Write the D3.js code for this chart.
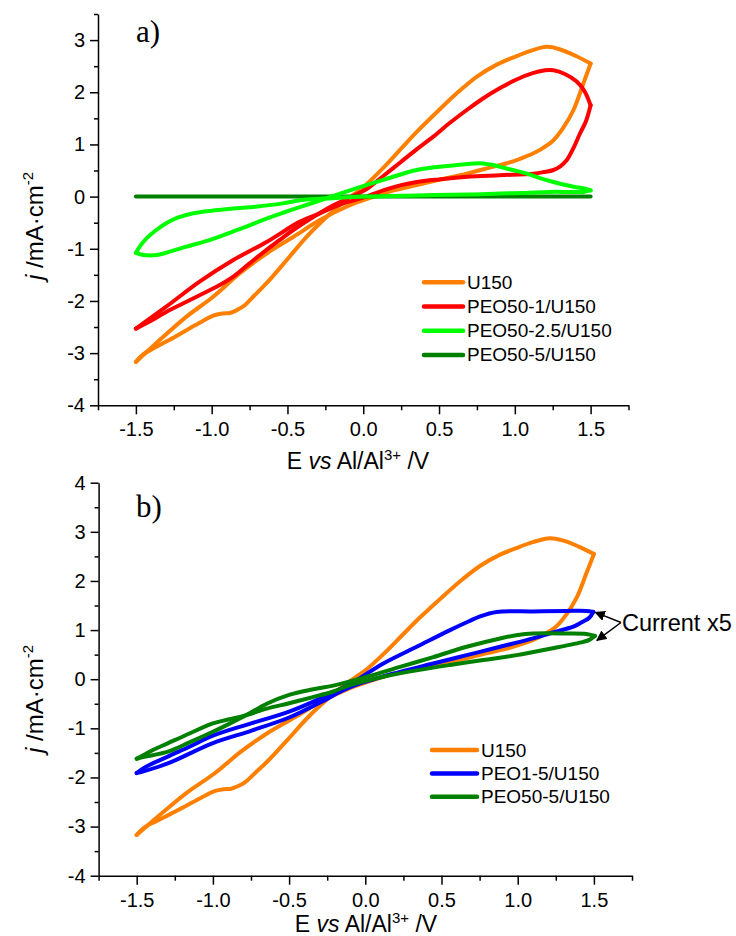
<!DOCTYPE html>
<html><head><meta charset="utf-8">
<script src="https://cdn.jsdelivr.net/npm/d3@7"></script>
<style>body{margin:0;background:#fff}svg{display:block}</style>
</head><body>
<svg id="chart" width="736" height="936"></svg>
<script>
// ---------- data ----------
const xTicks = [-1.5, -1.0, -0.5, 0.0, 0.5, 1.0, 1.5];
const xMinor = [-1.75, -1.25, -0.75, -0.25, 0.25, 0.75, 1.25, 1.75];
const yTicksA = [-4, -3, -2, -1, 0, 1, 2, 3];
const yTicksB = [-4, -3, -2, -1, 0, 1, 2, 3, 4];
const yMinor = [-3.5, -2.5, -1.5, -0.5, 0.5, 1.5, 2.5, 3.5];

const legendA = ["U150", "PEO50-1/U150", "PEO50-2.5/U150", "PEO50-5/U150"];
const legendB = ["U150", "PEO1-5/U150", "PEO50-5/U150"];

// U150 (same in both panels): forward and reverse sweep [E, j]
const u150Fwd = [[-1.5,-3.17],[-1.45,-3.02],[-1.365,-2.88],[-1.25,-2.70],[-1.166,-2.56],[-1.08,-2.42],[-0.99,-2.28],[-0.93,-2.24],[-0.88,-2.23],[-0.83,-2.17],[-0.79,-2.10],[-0.72,-1.90],[-0.638,-1.66],[-0.506,-1.22],[-0.374,-0.77],[-0.242,-0.39],[-0.12,-0.08],[0.0,0.18],[0.132,0.55],[0.25,0.92],[0.353,1.24],[0.5,1.66],[0.617,1.98],[0.75,2.30],[0.881,2.53],[1.0,2.68],[1.1,2.79],[1.211,2.87],[1.3,2.82],[1.4,2.70],[1.5,2.55]];
const u150Rev = [[1.5,2.55],[1.45,2.15],[1.387,1.66],[1.32,1.32],[1.255,1.08],[1.19,0.94],[1.123,0.83],[1.03,0.72],[0.947,0.64],[0.8,0.53],[0.683,0.44],[0.5,0.32],[0.353,0.22],[0.2,0.12],[0.05,-0.02],[-0.1,-0.18],[-0.286,-0.45],[-0.46,-0.77],[-0.638,-1.09],[-0.814,-1.47],[-0.99,-1.92],[-1.166,-2.30],[-1.343,-2.75],[-1.5,-3.17]];

const peo50_1Fwd = [[-1.5,-2.53],[-1.4,-2.38],[-1.3,-2.21],[-1.19,-2.05],[-1.08,-1.89],[-0.968,-1.73],[-0.86,-1.54],[-0.75,-1.28],[-0.638,-1.02],[-0.55,-0.83],[-0.462,-0.64],[-0.33,-0.39],[-0.2,-0.17],[-0.1,-0.03],[0.02,0.14],[0.13,0.39],[0.242,0.65],[0.35,0.90],[0.462,1.15],[0.57,1.41],[0.683,1.66],[0.8,1.90],[0.903,2.08],[1.0,2.23],[1.123,2.37],[1.2,2.42],[1.255,2.42],[1.33,2.35],[1.41,2.20],[1.46,2.02],[1.5,1.75]];
const peo50_1Rev = [[1.5,1.75],[1.47,1.45],[1.43,1.21],[1.39,0.95],[1.343,0.70],[1.30,0.58],[1.255,0.51],[1.19,0.47],[1.123,0.44],[0.9,0.41],[0.683,0.38],[0.5,0.33],[0.353,0.28],[0.25,0.22],[0.132,0.12],[0.0,-0.02],[-0.15,-0.15],[-0.286,-0.32],[-0.418,-0.48],[-0.638,-0.87],[-0.86,-1.22],[-1.08,-1.63],[-1.3,-2.11],[-1.5,-2.53]];

const peo50_25Fwd = [[-1.5,-1.08],[-1.45,-1.12],[-1.365,-1.12],[-1.27,-1.05],[-1.166,-0.96],[-1.0,-0.82],[-0.86,-0.67],[-0.75,-0.55],[-0.638,-0.42],[-0.52,-0.30],[-0.418,-0.20],[-0.25,-0.04],[-0.088,0.12],[0.132,0.32],[0.353,0.51],[0.573,0.59],[0.771,0.64],[0.85,0.61],[0.903,0.57],[1.0,0.50],[1.08,0.44],[1.17,0.35],[1.255,0.28],[1.387,0.19],[1.45,0.16],[1.5,0.12]];
const peo50_25Rev = [[1.5,0.12],[1.45,0.09],[1.35,0.09],[1.233,0.09],[1.05,0.07],[0.903,0.06],[0.7,0.04],[0.462,0.03],[0.2,0.01],[0.02,0.0],[-0.2,-0.03],[-0.418,-0.07],[-0.53,-0.13],[-0.7,-0.19],[-0.86,-0.23],[-1.0,-0.27],[-1.12,-0.32],[-1.22,-0.40],[-1.3,-0.51],[-1.365,-0.64],[-1.43,-0.80],[-1.47,-0.94],[-1.5,-1.08]];

const peo50_5A = [[-1.5,0.0],[-0.75,0.0],[0.0,0.0],[0.75,0.0],[1.5,0.0]];

const peo1_5Fwd = [[-1.5,-1.91],[-1.45,-1.80],[-1.3,-1.58],[-1.15,-1.37],[-1.0,-1.15],[-0.75,-0.90],[-0.5,-0.66],[-0.3,-0.40],[-0.1,-0.10],[0.118,0.32],[0.337,0.66],[0.556,1.00],[0.68,1.18],[0.753,1.28],[0.862,1.37],[1.1,1.38],[1.32,1.39],[1.45,1.39],[1.496,1.37]];
const peo1_5Rev = [[1.496,1.37],[1.47,1.25],[1.42,1.16],[1.365,1.07],[1.23,0.95],[1.10,0.83],[0.884,0.66],[0.665,0.49],[0.446,0.32],[0.228,0.15],[-0.1,-0.16],[-0.3,-0.48],[-0.5,-0.78],[-0.75,-1.05],[-1.0,-1.30],[-1.3,-1.72],[-1.45,-1.87],[-1.5,-1.91]];

const peo50_5BFwd = [[-1.5,-1.62],[-1.45,-1.58],[-1.3,-1.48],[-1.15,-1.28],[-1.0,-1.07],[-0.9,-0.92],[-0.78,-0.73],[-0.647,-0.50],[-0.5,-0.32],[-0.35,-0.21],[-0.21,-0.13],[0.009,0.05],[0.228,0.25],[0.446,0.45],[0.665,0.66],[0.884,0.83],[1.0,0.90],[1.10,0.93],[1.32,0.93],[1.45,0.92],[1.507,0.88]];
const peo50_5BRev = [[1.507,0.88],[1.47,0.80],[1.43,0.76],[1.212,0.62],[0.993,0.49],[0.774,0.39],[0.556,0.29],[0.337,0.18],[0.118,0.05],[-0.1,-0.12],[-0.21,-0.25],[-0.35,-0.37],[-0.5,-0.49],[-0.647,-0.60],[-0.78,-0.73],[-0.9,-0.82],[-1.0,-0.90],[-1.15,-1.10],[-1.3,-1.31],[-1.4,-1.45],[-1.5,-1.62]];

// ---------- drawing ----------
const svg = d3.select("#chart");
const FONT = "'Liberation Sans', Arial, sans-serif";
const C = {orange:"#FF8000", red:"#FF0000", lime:"#00FF00", dgreen:"#008000", blue:"#0000FF"};
const fmtX = d => d3.format(".1f")(d).replace("\u2212", "-");
const fmtY = d => d3.format("d")(d).replace("\u2212", "-");

function panel(cfg) {
  const x = d3.scaleLinear().domain([-1.75, 1.75]).range(cfg.xr);
  const y = d3.scaleLinear().domain(cfg.yd).range(cfg.yr);
  const g = svg.append("g");

  const line = d3.line().x(d => x(d[0])).y(d => y(d[1])).curve(d3.curveCatmullRom.alpha(0.5));
  cfg.series.forEach(s => {
    s.parts.forEach(p => {
      g.append("path").attr("d", line(p)).attr("fill", "none")
        .attr("stroke", s.color).attr("stroke-width", 4)
        .attr("stroke-linejoin", "round").attr("stroke-linecap", "round");
    });
  });

  // axes
  const xa = g.append("g").attr("transform", `translate(0,${cfg.yr[0]})`)
    .call(d3.axisBottom(x).tickValues(xTicks).tickSize(9).tickSizeOuter(0).tickPadding(8).tickFormat(fmtX));
  g.append("g").attr("transform", `translate(0,${cfg.yr[0]})`)
    .call(d3.axisBottom(x).tickValues(xMinor).tickSize(5).tickSizeOuter(0).tickFormat(""))
    .select(".domain").remove();
  const ya = g.append("g").attr("transform", `translate(${cfg.xr[0]},0)`)
    .call(d3.axisLeft(y).tickValues(cfg.yTicks).tickSize(8).tickSizeOuter(0).tickPadding(5).tickFormat(fmtY));
  g.append("g").attr("transform", `translate(${cfg.xr[0]},0)`)
    .call(d3.axisLeft(y).tickValues(yMinor).tickSize(4).tickSizeOuter(0).tickFormat(""))
    .select(".domain").remove();
  g.selectAll(".domain, .tick line").attr("stroke", "#000").attr("stroke-width", 1.5);
  xa.selectAll("text").attr("font-family", FONT).attr("font-size", 20).attr("fill", "#000");
  ya.selectAll("text").attr("font-family", FONT).attr("font-size", 20).attr("fill", "#000");

  // x title
  const xt = g.append("text").attr("x", cfg.xtX).attr("y", cfg.xtY).attr("text-anchor", "middle")
    .attr("font-family", FONT).attr("font-size", 23).attr("fill", "#000");
  xt.append("tspan").text("E ");
  xt.append("tspan").attr("font-style", "italic").text("vs");
  xt.append("tspan").text(" Al/Al");
  xt.append("tspan").attr("font-size", 15).attr("dy", -9).text("3+");
  xt.append("tspan").attr("dy", 9).text(" /V");

  // y title
  const yt = g.append("text").attr("transform", `translate(43,${cfg.ytY}) rotate(-90)`)
    .attr("text-anchor", "middle").attr("font-family", FONT).attr("font-size", 24).attr("fill", "#000");
  yt.append("tspan").attr("font-style", "italic").text("j");
  yt.append("tspan").text(" /mA·cm");
  yt.append("tspan").attr("font-size", 15).attr("dy", -10).text("-2");

  // panel label
  g.append("text").attr("x", 136).attr("y", cfg.lblY).attr("font-family", "'Liberation Serif', 'DejaVu Serif', serif")
    .attr("font-size", 31).attr("fill", "#000").text(cfg.label);

  // legend
  cfg.legend.forEach((name, i) => {
    const ly = cfg.legY + i * cfg.legDy;
    g.append("line").attr("x1", cfg.legX1).attr("x2", cfg.legX2).attr("y1", ly).attr("y2", ly)
      .attr("stroke", cfg.series[cfg.legOrder[i]].color).attr("stroke-width", 4.5).attr("stroke-linecap", "round");
    g.append("text").attr("x", cfg.legX2 + 4).attr("y", ly + 6.5).attr("font-family", FONT)
      .attr("font-size", 19).attr("fill", "#000").text(name);
  });
  return {x, y, g};
}

panel({
  xr: [98, 628.5], yd: [-4, 3.5], yr: [405.3, 14], yTicks: yTicksA,
  xtX: 358, xtY: 469, ytY: 226, label: "a)", lblY: 42,
  series: [
    {color: C.orange, parts: [u150Fwd, u150Rev]},
    {color: C.red, parts: [peo50_1Fwd, peo50_1Rev]},
    {color: C.dgreen, parts: [peo50_5A]},
    {color: C.lime, parts: [peo50_25Fwd, peo50_25Rev]}
  ],
  legend: legendA, legOrder: [0, 1, 3, 2],
  legX1: 424, legX2: 463, legY: 282.3, legDy: 24.2
});

const pb = panel({
  xr: [98.6, 632], yd: [-4, 4], yr: [875.7, 482.7], yTicks: yTicksB,
  xtX: 366, xtY: 932, ytY: 699, label: "b)", lblY: 517,
  series: [
    {color: C.orange, parts: [u150Fwd, u150Rev]},
    {color: C.blue, parts: [peo1_5Fwd, peo1_5Rev]},
    {color: C.dgreen, parts: [peo50_5BFwd, peo50_5BRev]}
  ],
  legend: legendB, legOrder: [0, 1, 2],
  legX1: 432, legX2: 477, legY: 750, legDy: 23.4
});

// "Current x5" annotation with arrows
const defs = svg.append("defs");
defs.append("marker").attr("id", "ah").attr("viewBox", "0 0 10 10").attr("refX", 9).attr("refY", 5)
  .attr("markerWidth", 7).attr("markerHeight", 7).attr("orient", "auto")
  .append("path").attr("d", "M0,0 L10,5 L0,10 Z").attr("fill", "#000");
const ann = pb.g;
const ax0 = 621, ay0 = 622.5;
[[1.49, 1.36], [1.5, 0.79]].forEach(t => {
  ann.append("line").attr("x1", ax0).attr("y1", ay0)
    .attr("x2", pb.x(t[0]) + 3).attr("y2", pb.y(t[1]))
    .attr("stroke", "#000").attr("stroke-width", 1.5).attr("marker-end", "url(#ah)");
});
ann.append("text").attr("x", 622).attr("y", 631).attr("font-family", FONT).attr("font-size", 23.5)
  .attr("fill", "#000").text("Current x5");
</script>
</body></html>
